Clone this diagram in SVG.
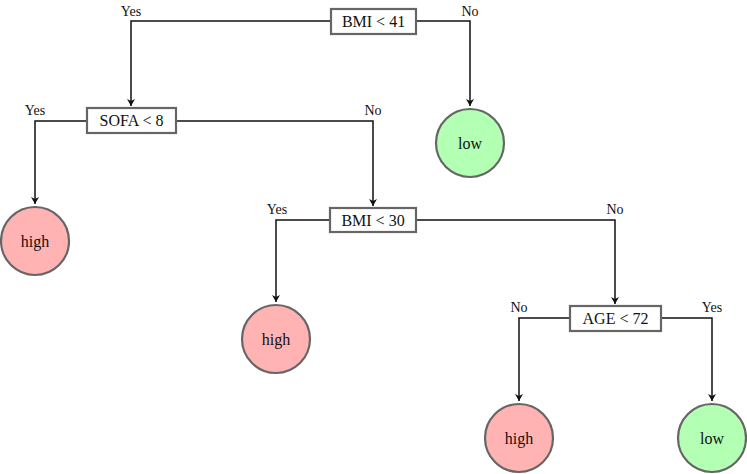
<svg xmlns="http://www.w3.org/2000/svg" width="747" height="474" viewBox="0 0 747 474">
<style>
.box{fill:#fff;stroke:#666;stroke-width:2.2}
.hi{fill:#ffb3b3;stroke:#666;stroke-width:2.2}
.lo{fill:#b3ffb3;stroke:#666;stroke-width:2.2}
.t{font-family:"Liberation Serif",serif;font-size:16px;fill:#111;text-anchor:middle;dominant-baseline:central}
.l{font-family:"Liberation Serif",serif;font-size:14px;fill:#111;text-anchor:middle}
.e{fill:none;stroke:#111;stroke-width:1.5}
</style>
<defs>
<marker id="a" markerWidth="8" markerHeight="8" refX="7" refY="4" orient="auto" markerUnits="userSpaceOnUse">
<path d="M0,0 L7,4 L0,8 L2,4 Z" fill="#111"/>
</marker>
</defs>
<g id="connectors">
<path class="e" d="M331,21 H131 V106" marker-end="url(#a)"/>
<path class="e" d="M416,21 H470 V106" marker-end="url(#a)"/>
<path class="e" d="M87,121 H35 V204" marker-end="url(#a)"/>
<path class="e" d="M176,121 H373 V206" marker-end="url(#a)"/>
<path class="e" d="M330,220 H276 V302" marker-end="url(#a)"/>
<path class="e" d="M416,220 H615 V304" marker-end="url(#a)"/>
<path class="e" d="M570,318 H519 V401" marker-end="url(#a)"/>
<path class="e" d="M661,318 H712 V401" marker-end="url(#a)"/>
<text class="l" x="131" y="16">Yes</text>
<text class="l" x="470" y="16">No</text>
<text class="l" x="35" y="115">Yes</text>
<text class="l" x="373" y="115">No</text>
<text class="l" x="277" y="214">Yes</text>
<text class="l" x="615" y="214">No</text>
<text class="l" x="519" y="312">No</text>
<text class="l" x="712" y="312">Yes</text>
</g>
<g id="n1"><rect class="box" x="331" y="9" width="85" height="25"/><text class="t" x="373.5" y="21.5">BMI &lt; 41</text></g>
<g id="n2"><rect class="box" x="87" y="108" width="89" height="25"/><text class="t" x="131.5" y="120.5">SOFA &lt; 8</text></g>
<g id="n3"><circle class="lo" cx="470" cy="143" r="34"/><text class="t" x="470" y="143">low</text></g>
<g id="n4"><circle class="hi" cx="35" cy="241" r="34"/><text class="t" x="35" y="241">high</text></g>
<g id="n5"><rect class="box" x="330" y="208" width="86" height="24"/><text class="t" x="373" y="220">BMI &lt; 30</text></g>
<g id="n6"><circle class="hi" cx="276" cy="339" r="34"/><text class="t" x="276" y="339">high</text></g>
<g id="n7"><rect class="box" x="570" y="306" width="91" height="25"/><text class="t" x="615.5" y="318.5">AGE &lt; 72</text></g>
<g id="n8"><circle class="hi" cx="519" cy="438" r="34"/><text class="t" x="519" y="438">high</text></g>
<g id="n9"><circle class="lo" cx="712" cy="438" r="34"/><text class="t" x="712" y="438">low</text></g>
</svg>
